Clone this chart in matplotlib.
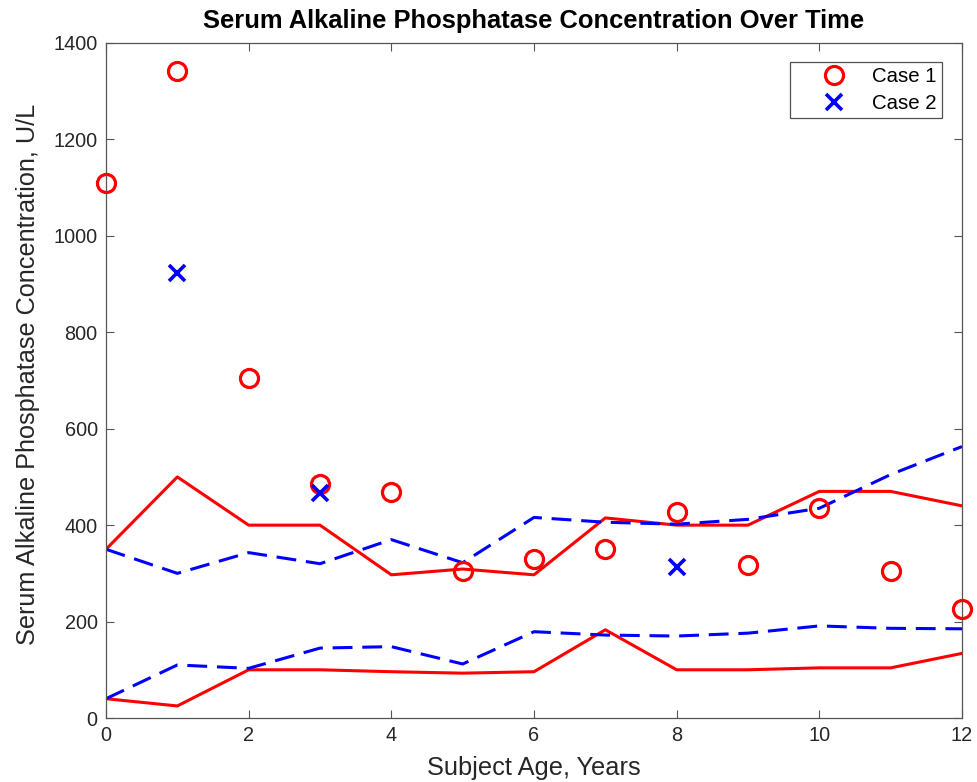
import matplotlib.pyplot as plt
import numpy as np

plt.rcParams['font.family'] = ['Liberation Sans', 'DejaVu Sans']

# subject age in years
age = [0, 1, 2, 3, 4, 5, 6, 7, 8, 9, 10, 11, 12]

# measured values
case1 = [1110, 1341, 706, 485, 468, 304, 329, 350, 428, 317, 435, 304, 227]
case2_age = [1, 3, 8]
case2 = [923, 467, 314]

# reference ranges (upper and lower bounds)
red_hi = [350, 500, 400, 400, 297, 309, 297, 415, 400, 400, 470, 470, 440]
red_lo = [40, 25, 100, 100, 96, 93, 96, 183, 100, 100, 104, 104, 134]
blue_hi = [350, 300, 343, 320, 370, 322, 416, 406, 402, 412, 435, 505, 563]
blue_lo = [40, 110, 103, 145, 148, 112, 179, 172, 170, 176, 191, 186, 185]

fig = plt.figure(figsize=(9.77, 7.82), dpi=100)
ax = fig.add_axes([106/977, 1-718/782, 856/977, 675/782])

ax.plot(age, red_hi, color='#ff0000', lw=2.2)
ax.plot(age, red_lo, color='#ff0000', lw=2.2)
ax.plot(age, blue_hi, color='#0000ff', lw=2.2, ls=(0, (6.5, 3.2)))
ax.plot(age, blue_lo, color='#0000ff', lw=2.2, ls=(0, (6.5, 3.2)))

ax.plot(age, case1, ls='none', marker='o', ms=13, mfc='none', mec='#ff0000', mew=2.3,
        label='Case 1', clip_on=False, zorder=5)
ax.plot(case2_age, case2, ls='none', marker='x', ms=12, mec='#0000ff', mew=2.6,
        label='Case 2', clip_on=False, zorder=5)

ax.set_xlim(0, 12)
ax.set_ylim(0, 1400)
ax.set_xticks(np.arange(0, 13, 2))
ax.set_yticks(np.arange(0, 1401, 200))

gray = '#262626'
for s in ax.spines.values():
    s.set_color('#555555')
    s.set_linewidth(0.9)
ax.tick_params(direction='in', length=6, width=0.8, color='#555555', labelcolor=gray,
               labelsize=14.3, top=True, right=True, pad=6)

ax.set_xlabel('Subject Age, Years', fontsize=18.3, color=gray, labelpad=7.5)
ax.set_ylabel('Serum Alkaline Phosphatase Concentration, U/L', fontsize=18.2, color=gray, labelpad=10)
ax.yaxis.label.set_y(0.509)
ax.set_title('Serum Alkaline Phosphatase Concentration Over Time', fontsize=18.4,
             fontweight='bold', pad=10.5)

leg = ax.legend(loc='upper right', bbox_to_anchor=(942/977, 1-62/782), bbox_transform=fig.transFigure,
                fontsize=14.7, frameon=True, fancybox=False, borderpad=0.25, handletextpad=0.0,
                labelspacing=0.37, handlelength=3.8, borderaxespad=0)
leg.get_frame().set_edgecolor(gray)
leg.get_frame().set_linewidth(0.9)

fig.savefig('out.png', dpi=100)
